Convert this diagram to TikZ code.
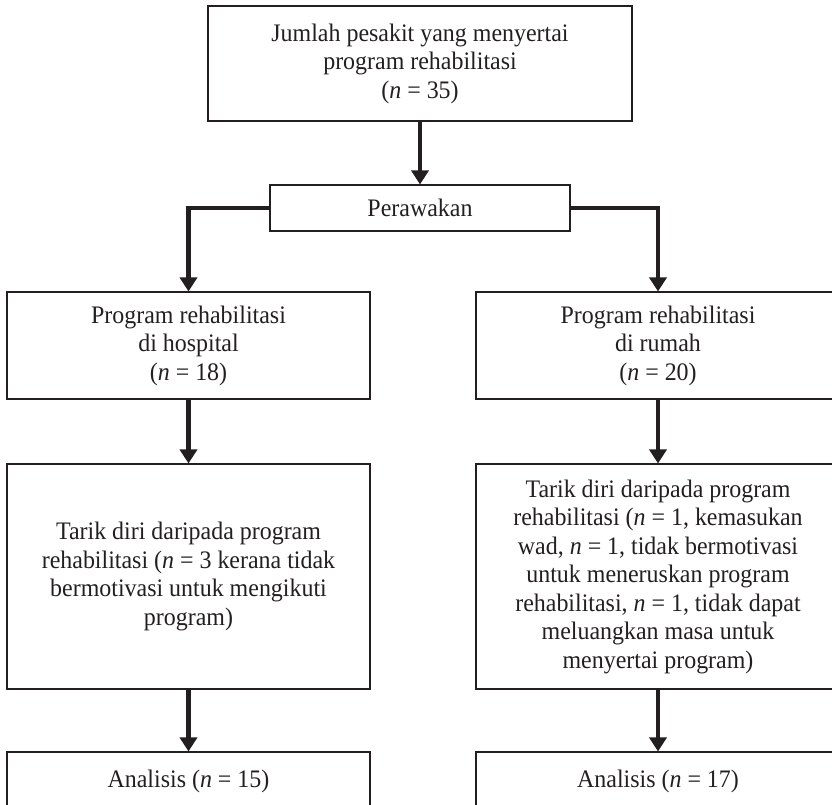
\documentclass[tikz,border=0pt]{standalone}
\usepackage{fontspec}
\setmainfont{Liberation Serif}[FakeStretch=0.95]
\usetikzlibrary{arrows.meta}
\definecolor{ink}{HTML}{231F20}
\begin{document}
\begin{tikzpicture}[x=1pt,y=-1pt,
  box/.style={draw=ink, line width=1.1pt, rectangle, inner sep=0pt, align=center,
    text=ink, font=\fontsize{25.2}{28.5}\selectfont},
  arr/.style={draw=ink, line width=4.6pt, miter limit=10,
    -{Triangle[width=17pt,length=14pt]}}
]
\useasboundingbox (0,0) rectangle (832,805);
\clip (0,0) rectangle (832,805);
\node[box, minimum width=424pt, minimum height=115pt] (top) at (420,63.5)
  {Jumlah pesakit yang menyertai\\program rehabilitasi\\(\textit{n} = 35)};
\node[box, minimum width=300pt, minimum height=46pt] (per) at (420,208) {Perawakan};
\node[box, minimum width=363pt, minimum height=107pt] (m1) at (188.5,345.5)
  {Program rehabilitasi\\di hospital\\(\textit{n} = 18)};
\node[box, minimum width=364pt, minimum height=107pt] (m2) at (658,345.5)
  {Program rehabilitasi\\di rumah\\(\textit{n} = 20)};
\node[box, minimum width=363pt, minimum height=225pt] (w1) at (188.5,576.5)
  {Tarik diri daripada program\\rehabilitasi (\textit{n} = 3 kerana tidak\\bermotivasi untuk mengikuti\\program)};
\node[box, minimum width=364pt, minimum height=225pt] (w2) at (658,576.5)
  {Tarik diri daripada program\\rehabilitasi (\textit{n} = 1, kemasukan\\wad, \textit{n} = 1, tidak bermotivasi\\untuk meneruskan program\\rehabilitasi, \textit{n} = 1, tidak dapat\\meluangkan masa untuk\\menyertai program)};
\node[box, minimum width=363pt, minimum height=58pt] (a1) at (188.5,781)
  {Analisis (\textit{n} = 15)};
\node[box, minimum width=364pt, minimum height=58pt] (a2) at (658,781)
  {Analisis (\textit{n} = 17)};
\draw[arr] (top.south) -- (per.north);
\draw[arr] (per.west) -| (m1.north);
\draw[arr] (per.east) -| (m2.north);
\draw[arr] (m1.south) -- (w1.north);
\draw[arr] (m2.south) -- (w2.north);
\draw[arr] (w1.south) -- (a1.north);
\draw[arr] (w2.south) -- (a2.north);
\end{tikzpicture}
\end{document}
